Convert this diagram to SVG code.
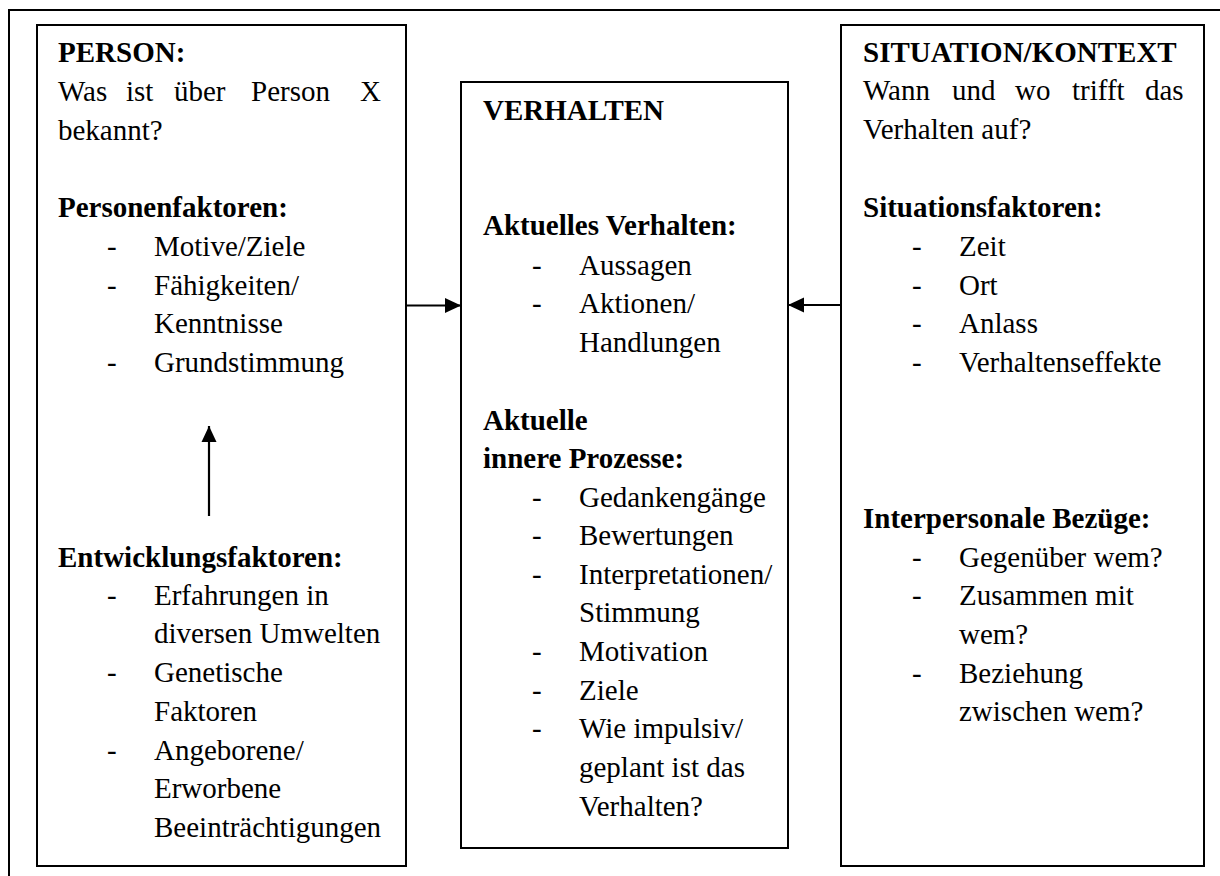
<svg xmlns="http://www.w3.org/2000/svg" width="1220" height="876" viewBox="0 0 1220 876">
<style>
  text { font-family: "Liberation Serif", "Times New Roman", serif; font-size: 29px; fill: #000; }
  .b { font-weight: bold; }
  .box { fill: #fff; stroke: #000; stroke-width: 2; }
  .frame { fill: none; stroke: #000; stroke-width: 2; }
  .conn { fill: none; stroke: #000; stroke-width: 2.2; }
</style>
<defs>
  <marker id="ah" viewBox="0 0 16 16" refX="16" refY="8" markerWidth="16" markerHeight="16" markerUnits="userSpaceOnUse" orient="auto">
    <path d="M0,0.5 L16,8 L0,15.5 z" fill="#000"/>
  </marker>
</defs>
<rect width="1220" height="876" fill="#fff"/>
<path class="frame" d="M9,876 L9,10 L1220,10"/>

<g id="person">
  <rect class="box" x="37" y="25" width="369" height="841"/>
  <text class="b" x="58" y="62">PERSON:</text>
  <text y="101"><tspan x="58">Was</tspan><tspan x="126">ist</tspan><tspan x="174">über</tspan><tspan x="251">Person</tspan><tspan x="360">X</tspan></text>
  <text x="58" y="140">bekannt?</text>
  <text class="b" x="58" y="217">Personenfaktoren:</text>
  <text x="107" y="256">-</text><text x="154" y="256">Motive/Ziele</text>
  <text x="107" y="295">-</text><text x="154" y="295">Fähigkeiten/</text>
  <text x="154" y="333">Kenntnisse</text>
  <text x="107" y="372">-</text><text x="154" y="372">Grundstimmung</text>
  <text class="b" x="58" y="567">Entwicklungsfaktoren:</text>
  <text x="107" y="605">-</text><text x="154" y="605">Erfahrungen in</text>
  <text x="154" y="643">diversen Umwelten</text>
  <text x="107" y="682">-</text><text x="154" y="682">Genetische</text>
  <text x="154" y="721">Faktoren</text>
  <text x="107" y="760">-</text><text x="154" y="760">Angeborene/</text>
  <text x="154" y="798">Erworbene</text>
  <text x="154" y="837">Beeinträchtigungen</text>
</g>

<g id="verhalten">
  <rect class="box" x="461" y="82" width="327" height="766"/>
  <text class="b" x="483" y="120">VERHALTEN</text>
  <text class="b" x="483" y="235">Aktuelles Verhalten:</text>
  <text x="532" y="275">-</text><text x="579" y="275">Aussagen</text>
  <text x="532" y="313">-</text><text x="579" y="313">Aktionen/</text>
  <text x="579" y="352">Handlungen</text>
  <text class="b" x="483" y="430">Aktuelle</text>
  <text class="b" x="483" y="468">innere Prozesse:</text>
  <text x="532" y="507">-</text><text x="579" y="507">Gedankengänge</text>
  <text x="532" y="545">-</text><text x="579" y="545">Bewertungen</text>
  <text x="532" y="584">-</text><text x="579" y="584">Interpretationen/</text>
  <text x="579" y="622">Stimmung</text>
  <text x="532" y="661">-</text><text x="579" y="661">Motivation</text>
  <text x="532" y="700">-</text><text x="579" y="700">Ziele</text>
  <text x="532" y="738">-</text><text x="579" y="738">Wie impulsiv/</text>
  <text x="579" y="777">geplant ist das</text>
  <text x="579" y="816">Verhalten?</text>
</g>

<g id="situation">
  <rect class="box" x="841" y="25" width="363" height="841"/>
  <text class="b" x="863" y="62">SITUATION/KONTEXT</text>
  <text y="100"><tspan x="863">Wann</tspan><tspan x="952">und</tspan><tspan x="1015">wo</tspan><tspan x="1072">trifft</tspan><tspan x="1145">das</tspan></text>
  <text x="863" y="139">Verhalten auf?</text>
  <text class="b" x="863" y="217">Situationsfaktoren:</text>
  <text x="912" y="256">-</text><text x="959" y="256">Zeit</text>
  <text x="912" y="295">-</text><text x="959" y="295">Ort</text>
  <text x="912" y="333">-</text><text x="959" y="333">Anlass</text>
  <text x="912" y="372">-</text><text x="959" y="372">Verhaltenseffekte</text>
  <text class="b" x="863" y="528">Interpersonale Bezüge:</text>
  <text x="912" y="567">-</text><text x="959" y="567">Gegenüber wem?</text>
  <text x="912" y="605">-</text><text x="959" y="605">Zusammen mit</text>
  <text x="959" y="644">wem?</text>
  <text x="912" y="683">-</text><text x="959" y="683">Beziehung</text>
  <text x="959" y="721">zwischen wem?</text>
</g>

<g id="connectors">
  <line class="conn" x1="406" y1="305.5" x2="461" y2="305.5" marker-end="url(#ah)"/>
  <line class="conn" x1="841" y1="305" x2="788" y2="305" marker-end="url(#ah)"/>
  <line class="conn" x1="209" y1="516" x2="209" y2="426" marker-end="url(#ah)"/>
</g>
</svg>
